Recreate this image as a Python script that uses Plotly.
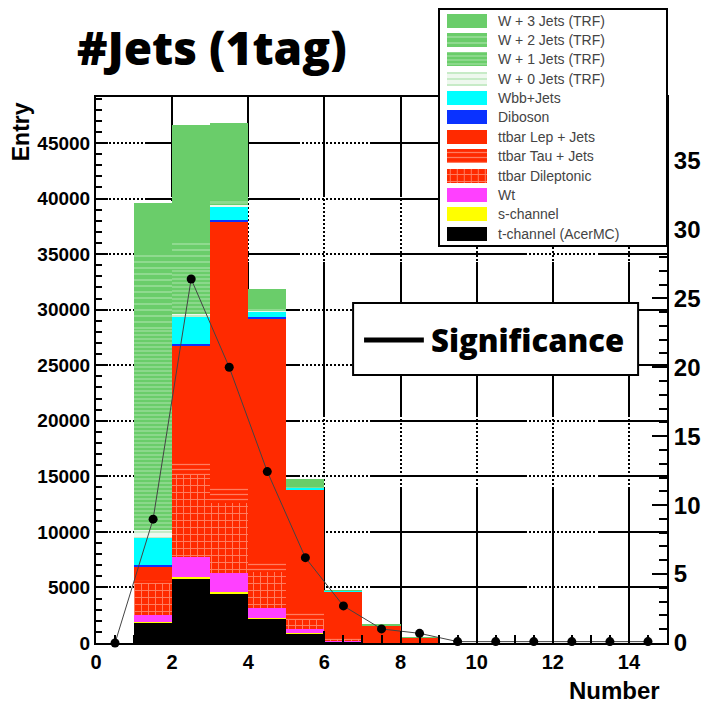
import plotly.graph_objects as go

# ---------------- data ----------------
bin_centers = [i + 0.5 for i in range(15)]
x_tick_vals = list(range(0, 15, 2))

# stacked samples (bottom -> top), entries per bin of the jet multiplicity
t_channel = [0, 1830, 5730, 4470, 2220, 870, 120, 20, 5, 0, 0, 0, 0, 0, 0]
s_channel = [0, 80, 200, 80, 50, 30, 0, 0, 0, 0, 0, 0, 0, 0, 0]
wt_chan = [0, 610, 1840, 1720, 850, 370, 80, 10, 0, 0, 0, 0, 0, 0, 0]
tt_dilep = [0, 2850, 7350, 6330, 3300, 800, 150, 40, 15, 0, 0, 0, 0, 0, 0]
tt_tau = [0, 300, 1110, 1550, 900, 600, 250, 80, 30, 0, 0, 0, 0, 0, 0]
tt_lep = [0, 1200, 10570, 23750, 21880, 11100, 4050, 1450, 420, 0, 0, 0, 0, 0, 0]
diboson = [0, 150, 150, 150, 100, 30, 0, 0, 0, 0, 0, 0, 0, 0, 0]
wbb_jets = [0, 2400, 2420, 1150, 500, 150, 30, 0, 0, 0, 0, 0, 0, 0, 0]
w0_jets = [0, 750, 250, 250, 150, 50, 0, 0, 0, 0, 0, 0, 0, 0, 0]
w1_jets = [0, 18000, 4000, 150, 100, 50, 0, 0, 0, 0, 0, 0, 0, 0, 0]
w2_jets = [0, 6730, 2350, 150, 100, 50, 0, 0, 0, 0, 0, 0, 0, 0, 0]
w3_jets = [0, 4700, 10630, 7050, 1750, 630, 40, 30, 10, 0, 0, 0, 0, 0, 0]

significance = [0, 8.98, 26.4, 20.0, 12.43, 6.19, 2.69, 1.02, 0.70,
                0.1, 0.1, 0.1, 0.1, 0.1, 0.1]

sample_names = ["t-channel (AcerMC)", "s-channel", "Wt", "ttbar Dileptonic",
                "ttbar Tau + Jets", "ttbar Lep + Jets", "Diboson", "Wbb+Jets",
                "W + 0 Jets (TRF)", "W + 1 Jets (TRF)", "W + 2 Jets (TRF)",
                "W + 3 Jets (TRF)"]
sample_values = [t_channel, s_channel, wt_chan, tt_dilep, tt_tau, tt_lep,
                 diboson, wbb_jets, w0_jets, w1_jets, w2_jets, w3_jets]

# ---------------- styles ----------------
GREEN = "#6ACD6A"
RED = "#FF2A00"
sample_styles = [
    dict(color="#000000"),
    dict(color="#FFFF00"),
    dict(color="#FF40FF"),
    dict(color=RED, pattern=dict(shape="+", fgcolor="#FFD8C8", bgcolor=RED,
                                 fillmode="overlay", size=7, solidity=0.25)),
    dict(color=RED, pattern=dict(shape="-", fgcolor="#FFD0C0", bgcolor=RED,
                                 fillmode="overlay", size=5, solidity=0.25)),
    dict(color=RED),
    dict(color="#0A32FF"),
    dict(color="#00FFFF"),
    dict(color="#E8F6E8", pattern=dict(shape="-", fgcolor=GREEN, bgcolor="#EEF8EE",
                                       fillmode="overlay", size=6, solidity=0.2)),
    dict(color=GREEN, pattern=dict(shape="-", fgcolor="#D8F2D8", bgcolor=GREEN,
                                   fillmode="overlay", size=4, solidity=0.3)),
    dict(color=GREEN, pattern=dict(shape="-", fgcolor="#E6F7E6", bgcolor=GREEN,
                                   fillmode="overlay", size=6, solidity=0.2)),
    dict(color=GREEN),
]

# page geometry (pixels)
W, H = 701, 704
ML, MR, MT, MB = 96, 32, 0, 61
PW = W - ML - MR          # 573
PH = H - MT - MB          # 643 (paper height)
PLOT_TOP = 97             # top of the frame in page pixels
AXIS_BOTTOM = 643


def px_x(px):
    return (px - ML) / PW


def px_y(py):
    return (AXIS_BOTTOM - py) / PH


def dash_string(segments, on=2, off=2):
    """Build an svg dash array mixing solid runs with dotted runs."""
    parts = []

    def push(is_on, length):
        if length <= 0:
            return
        if parts and parts[-1][0] == is_on:
            parts[-1][1] += length
        else:
            parts.append([is_on, length])

    for kind, length in segments:
        if kind == "solid":
            push(True, length)
        else:
            n = int(length // (on + off))
            for _ in range(n):
                push(False, off)
                push(True, on)
            push(False, length - n * (on + off))
    if parts[0][0] is False:
        parts.insert(0, [True, 0])
    if len(parts) % 2:
        parts.append([False, 0])
    return ",".join(f"{p[1]:g}px" for p in parts)


hgrid_dash = dash_string([("solid", 7), ("dot", 42), ("solid", 155), ("dot", 72),
                          ("solid", 155), ("dot", 71), ("solid", 71)])
vgrid_dash = dash_string([("solid", 100), ("dot", 65), ("solid", 155), ("dot", 70),
                          ("solid", 156)])

fig = go.Figure()

# stacked histogram
for name, vals, style in zip(sample_names, sample_values, sample_styles):
    fig.add_trace(go.Bar(
        x=bin_centers, y=vals, width=1.0, name=name,
        marker=dict(line=dict(width=0), **style),
        xaxis="x", yaxis="y", showlegend=False,
    ))

# significance curve on the right axis
fig.add_trace(go.Scatter(
    x=bin_centers, y=significance, mode="lines+markers",
    line=dict(color="#444444", width=1),
    marker=dict(color="black", size=9),
    xaxis="x", yaxis="y2", showlegend=False, cliponaxis=False,
))

# ---------------- legend box (own small axis) ----------------
LEG_X0, LEG_X1, LEG_Y0, LEG_Y1 = 441, 668, 10, 245
leg_w = LEG_X1 - LEG_X0
leg_h = LEG_Y1 - LEG_Y0
fig.add_trace(go.Bar(
    x=[leg_w], y=[leg_h / 2], base=[0], width=[leg_h], orientation="h",
    marker=dict(color="white", line=dict(width=0)),
    xaxis="x3", yaxis="y3", showlegend=False, hoverinfo="skip",
))
legend_order = list(range(len(sample_names)))[::-1]
row_step = 19.35
for row, idx in enumerate(legend_order):
    yc = 10.7 + row * row_step
    fig.add_trace(go.Bar(
        x=[40], y=[yc], base=[7], width=[14], orientation="h",
        marker=dict(line=dict(width=0), **sample_styles[idx]),
        xaxis="x3", yaxis="y3", showlegend=False, hoverinfo="skip",
    ))
    fig.add_annotation(
        x=56, y=yc, xref="x3", yref="y3", text=sample_names[idx],
        showarrow=False, xanchor="left", yanchor="middle",
        font=dict(family="Liberation Sans", size=14, color="#444444"),
    )

tick_font = dict(family="Liberation Sans", color="black", weight="bold")

fig.update_layout(
    width=W, height=H,
    margin=dict(l=ML, r=MR, t=MT, b=MB),
    paper_bgcolor="white", plot_bgcolor="white",
    barmode="stack", bargap=0,
    xaxis=dict(
        domain=[0, 1], range=[0, 15], anchor="y",
        tickvals=x_tick_vals, ticks="inside", ticklen=12, tickwidth=2,
        tickcolor="black",
        minor=dict(dtick=0.5, ticks="inside", ticklen=8, tickwidth=2,
                   tickcolor="black", showgrid=False),
        showline=True, linecolor="black", linewidth=2, mirror=True,
        showgrid=True, gridcolor="black", gridwidth=2, griddash=vgrid_dash,
        zeroline=False, tickfont=dict(size=20, **tick_font),
    ),
    yaxis=dict(
        domain=[0, px_y(PLOT_TOP)], range=[0, 49140], anchor="x",
        dtick=5000, tick0=0, tickformat="d",
        ticks="inside", ticklen=12, tickwidth=2, tickcolor="black",
        minor=dict(dtick=1000, ticks="inside", ticklen=6, tickwidth=2,
                   tickcolor="black", showgrid=False),
        showline=True, linecolor="black", linewidth=2, mirror=True,
        showgrid=True, gridcolor="black", gridwidth=2, griddash=hgrid_dash,
        zeroline=False, tickfont=dict(size=19, **tick_font),
    ),
    yaxis2=dict(
        overlaying="y", side="right", anchor="x", range=[0, 39.6],
        dtick=5, tick0=0, ticks="inside", ticklen=15, tickwidth=2,
        tickcolor="black",
        minor=dict(dtick=1, ticks="inside", ticklen=8, tickwidth=2,
                   tickcolor="black", showgrid=False),
        showline=True, linecolor="black", linewidth=2,
        showgrid=False, zeroline=False, tickfont=dict(size=24, **tick_font),
    ),
    xaxis3=dict(
        domain=[px_x(LEG_X0), px_x(LEG_X1)], range=[0, leg_w], anchor="y3",
        showticklabels=False, ticks="", showgrid=False, zeroline=False,
        showline=True, linecolor="black", linewidth=1.5, mirror=True,
        fixedrange=True,
    ),
    yaxis3=dict(
        domain=[px_y(LEG_Y1), px_y(LEG_Y0)], range=[leg_h, 0], anchor="x3",
        showticklabels=False, ticks="", showgrid=False, zeroline=False,
        showline=True, linecolor="black", linewidth=1.5, mirror=True,
        fixedrange=True,
    ),
)

# significance legend box
fig.add_shape(type="rect", xref="paper", yref="paper",
              x0=px_x(354), x1=px_x(640), y0=px_y(375), y1=px_y(303),
              line=dict(color="black", width=2), fillcolor="white", layer="above")
fig.add_shape(type="line", xref="paper", yref="paper",
              x0=px_x(365), x1=px_x(425), y0=px_y(340), y1=px_y(340),
              line=dict(color="black", width=5), layer="above")
fig.add_annotation(x=px_x(430), y=px_y(340), xref="paper", yref="paper",
                   text="Significance", showarrow=False, xanchor="left",
                   yanchor="middle",
                   font=dict(family="Open Sans", size=31, color="black", weight=800))

# title and axis titles
fig.add_annotation(x=px_x(212), y=px_y(47), xref="paper", yref="paper",
                   text="#Jets (1tag)", showarrow=False, xanchor="center",
                   yanchor="middle",
                   font=dict(family="Open Sans", size=46, color="black", weight=800))
fig.add_annotation(x=px_x(21), y=px_y(132), xref="paper", yref="paper",
                   text="Entry", showarrow=False, textangle=-90,
                   xanchor="center", yanchor="middle",
                   font=dict(family="Liberation Sans", size=23, color="black",
                             weight="bold"))
fig.add_annotation(x=px_x(616), y=px_y(690), xref="paper", yref="paper",
                   text="Number", showarrow=False, xanchor="center",
                   yanchor="middle",
                   font=dict(family="Liberation Sans", size=24, color="black",
                             weight="bold"))

fig.write_html("out.html")
